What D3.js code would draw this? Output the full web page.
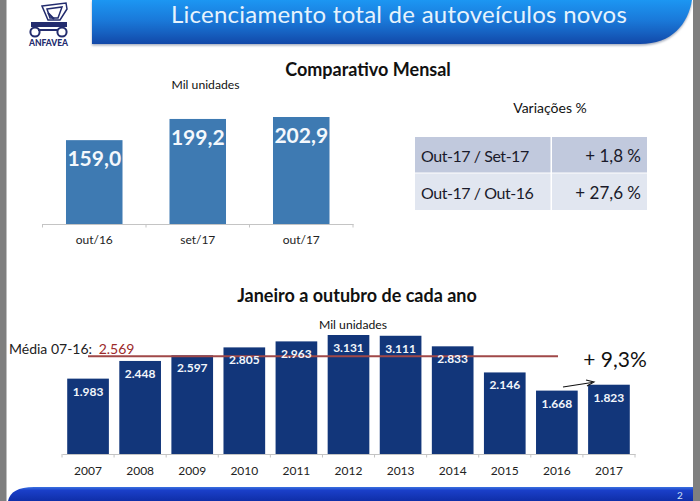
<!DOCTYPE html>
<html><head><meta charset="utf-8">
<script src="https://cdnjs.cloudflare.com/ajax/libs/d3/7.8.5/d3.min.js"></script>
<style>html,body{margin:0;padding:0;background:#fff}svg{display:block}text{font-family:Lato,"Open Sans",sans-serif}</style>
</head><body><svg id="c" width="700" height="501"></svg>
<script>
const monthCats = ["out/16","set/17","out/17"];
const monthVals = [159.0,199.2,202.9];
const yearCats = ["2007","2008","2009","2010","2011","2012","2013","2014","2015","2016","2017"];
const yearVals = [1983,2448,2597,2805,2963,3131,3111,2833,2146,1668,1823];
const meanVal = 2569;
const tableLeft = ["Out-17 / Set-17","Out-17 / Out-16"];
const tableRight = ["+ 1,8 %","+ 27,6 %"];

const fmtM = d3.format(".1f");
const fmtY = v => d3.format(",")(v).replace(/,/g,".");
const svg = d3.select("#c");
const defs = svg.append("defs");
const g1 = defs.append("linearGradient").attr("id","hd").attr("x1",0).attr("y1",0).attr("x2",0).attr("y2",1);
[[0,"#1c96f2"],[0.45,"#1a7ada"],[0.75,"#1660c0"],[1,"#1248a8"]].forEach(s=>g1.append("stop").attr("offset",s[0]).attr("stop-color",s[1]));
const g2 = defs.append("linearGradient").attr("id","ft").attr("x1",0).attr("y1",0).attr("x2",0).attr("y2",1);
[[0,"#3a70e0"],[0.25,"#1a3fc8"],[1,"#0f2ea8"]].forEach(s=>g2.append("stop").attr("offset",s[0]).attr("stop-color",s[1]));
defs.append("filter").attr("id","bl").append("feGaussianBlur").attr("stdDeviation",1.2);

// slide frame
svg.append("rect").attr("x",0).attr("y",0).attr("width",6.5).attr("height",501).attr("fill","#7f7f7f");
svg.append("rect").attr("x",693).attr("y",0).attr("width",7).attr("height",501).attr("fill","#7f7f7f");

// header
const hdPath = "M92,0H692C688,24 672,44 640,44H92Z";
svg.append("path").attr("d",hdPath).attr("fill","#a4acbc").attr("transform","translate(0,1.5)").attr("filter","url(#bl)");
svg.append("path").attr("d",hdPath).attr("fill","url(#hd)");
svg.append("text").attr("x",399).attr("y",23).attr("text-anchor","middle").attr("font-size",24).style("letter-spacing","0.25px").attr("fill","#e6f3fd").text("Licenciamento total de autoveículos novos");

// footer
svg.append("path").attr("d","M8,501C10,492 18,487 34,487H693V501Z").attr("fill","url(#ft)");
svg.append("text").attr("x",680).attr("y",499).attr("text-anchor","middle").attr("font-size",10).attr("fill","#cfe0f5").text("2");

// logo
const logo = svg.append("g").attr("fill","none").attr("stroke","#232c6e");
logo.append("path").attr("d","M42,6L66,3L67,9L60,20H48Z M47,9L62,7L58,18H50Z").attr("stroke-width",1.5);
logo.append("path").attr("d","M48,13L54,19").attr("stroke-width",2);
logo.append("path").attr("d","M31,22H67V27H31Z").attr("fill","#232c6e").attr("stroke","none");
logo.append("path").attr("d","M38,30H58").attr("stroke-width",2);
logo.append("circle").attr("cx",35).attr("cy",32).attr("r",4.6).attr("stroke-width",2);
logo.append("circle").attr("cx",62).attr("cy",32).attr("r",4.6).attr("stroke-width",2);
svg.append("text").attr("x",48.5).attr("y",45.6).attr("text-anchor","middle").attr("font-size",8.5).attr("font-weight",900).attr("fill","#232c6e").text("ANFAVEA");

function heading(x,y,t,size,weight,fill){
  return svg.append("text").attr("x",x).attr("y",y).attr("text-anchor","middle").attr("font-size",size).attr("font-weight",weight||400).attr("fill",fill||"#111").text(t);
}
heading(368,76,"Comparativo Mensal",18,700);
heading(205.5,88.5,"Mil unidades",12.2);
heading(550,113,"Variações %",14);
heading(357,302,"Janeiro a outubro de cada ano",18,700);
heading(353,329,"Mil unidades",12.2);

function axis(scale,y,fs,pad){
  const a = svg.append("g").attr("transform",`translate(0,${y})`)
    .call(d3.axisBottom(scale).tickSize(0).tickPadding(pad));
  a.select(".domain").attr("stroke","#c4c4c4").attr("stroke-width",1.2);
  a.selectAll("text").attr("font-size",fs).attr("fill","#222").style("font-family","Lato,sans-serif");
  const edges = scale.domain().map(d=>scale(d)-scale.step()*scale.paddingInner()/2);
  edges.push(scale.range()[1]);
  a.selectAll("line.e").data(edges).enter().append("line").attr("class","e")
    .attr("x1",d=>d).attr("x2",d=>d).attr("y1",0).attr("y2",3.5).attr("stroke","#c4c4c4");
}

// monthly chart
const xM = d3.scaleBand().domain(monthCats).range([42.5,353]).paddingInner(0.454).paddingOuter(0.227);
const yM = d3.scaleLinear().domain([0,202.9]).range([224,117]);
svg.append("g").selectAll("rect").data(monthVals).enter().append("rect")
  .attr("x",(d,i)=>xM(monthCats[i])).attr("width",xM.bandwidth())
  .attr("y",d=>yM(d)).attr("height",d=>yM(0)-yM(d)).attr("fill","#3e7ab2");
axis(xM,224,12,11);
svg.append("g").selectAll("text").data(monthVals).enter().append("text")
  .attr("x",(d,i)=>xM(monthCats[i])+xM.bandwidth()/2).attr("y",d=>yM(d)+26)
  .attr("text-anchor","middle").attr("font-size",21).attr("font-weight",700).attr("fill","#f4f8fc")
  .text(d=>fmtM(d).replace(".",","));

// table
const tx = [415,551,647], ty = [137,173.5,211], rowFill = ["#c1c9dd","#e1e6f0"];
tableLeft.forEach((t,i)=>{
  svg.append("rect").attr("x",tx[0]).attr("y",ty[i]).attr("width",tx[1]-tx[0]-0.5).attr("height",ty[i+1]-ty[i]-1).attr("fill",rowFill[i]);
  svg.append("rect").attr("x",tx[1]+1).attr("y",ty[i]).attr("width",tx[2]-tx[1]-1).attr("height",ty[i+1]-ty[i]-1).attr("fill",rowFill[i]);
  svg.append("text").attr("x",421).attr("y",ty[i]+25).attr("font-size",16).style("letter-spacing","-0.45px").attr("fill","#1a1a2a").text(t);
  svg.append("text").attr("x",641).attr("y",ty[i]+25).attr("text-anchor","end").attr("font-size",17).attr("fill","#1a1a2a").text(tableRight[i]);
});

// yearly chart
const xY = d3.scaleBand().domain(yearCats).range([62,635]).paddingInner(0.2).paddingOuter(0.1);
const yY = d3.scaleLinear().domain([0,3131]).range([454,335]);
svg.append("g").selectAll("rect").data(yearVals).enter().append("rect")
  .attr("x",(d,i)=>xY(yearCats[i])).attr("width",xY.bandwidth())
  .attr("y",d=>yY(d)).attr("height",d=>yY(0)-yY(d)).attr("fill","#12367a");
axis(xY,454,12,12);
svg.append("line").attr("x1",88).attr("x2",558).attr("y1",yY(meanVal)).attr("y2",yY(meanVal)).attr("stroke","#a04848").attr("stroke-width",2);
svg.append("g").selectAll("text").data(yearVals).enter().append("text")
  .attr("x",(d,i)=>xY(yearCats[i])+xY.bandwidth()/2).attr("y",d=>yY(d)+17)
  .attr("text-anchor","middle").attr("font-size",12).attr("font-weight",700).attr("fill","#f2f6fb")
  .text(fmtY);

// mean label
const ml = svg.append("text").attr("x",9).attr("y",354).attr("font-size",14).attr("fill","#222");
ml.append("tspan").text("Média 07-16:");
ml.append("tspan").text(" "+fmtY(meanVal)).attr("fill","#9c2a2a").attr("dx",3);

// growth note
heading(615,367,"+ 9,3%",21,400,"#111");
svg.append("line").attr("x1",563).attr("y1",387).attr("x2",592).attr("y2",382.5).attr("stroke","#111").attr("stroke-width",1.1);
svg.append("path").attr("d","M586,380L594,382L587,386").attr("fill","none").attr("stroke","#111").attr("stroke-width",1.1);
</script></body></html>
